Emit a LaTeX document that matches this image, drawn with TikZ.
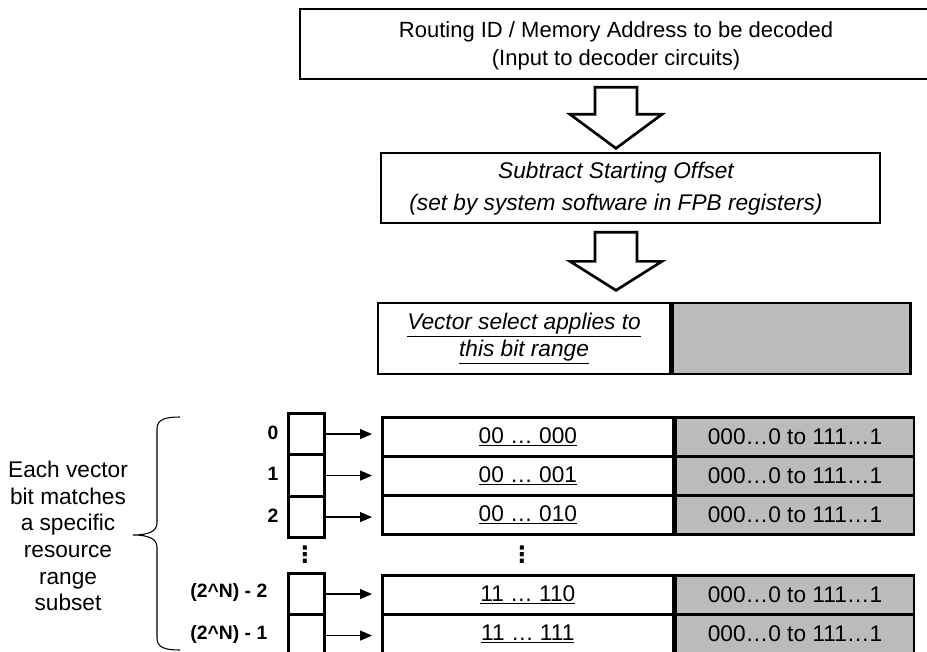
\documentclass[tikz,border=0pt]{standalone}
\usepackage{fontspec}
\setmainfont{Liberation Sans}
\newfontfamily\dotsfont{DejaVu Sans}
\usetikzlibrary{arrows.meta, positioning, calc}
\definecolor{rangegray}{RGB}{187,187,187}

\begin{document}
\begin{tikzpicture}[x=0.75pt, y=-0.75pt,
    stagebox/.style={rectangle, draw, line width=2pt, minimum height=52.5pt, inner sep=0pt},
    stagetext/.style={align=center, font=\fontsize{17}{21}\selectfont},
    bitcell/.style={rectangle, draw, line width=2pt, minimum width=27pt, minimum height=31.1pt,
                 inner sep=0pt, anchor=north west},
    idxpart/.style={rectangle, draw, line width=2pt, minimum width=218.25pt, minimum height=29.25pt,
                 inner sep=0pt, anchor=north west, font=\fontsize{17}{20}\selectfont},
    rangepart/.style={idxpart, fill=rangegray, minimum width=178.5pt},
    bitlabel/.style={anchor=east, font=\bfseries\fontsize{14.5}{17}\selectfont},
    blockarrow/.style={draw, line width=2pt, fill=white, line join=miter},
    bitarrow/.style={-{Triangle[length=9pt, width=7.5pt]}, line width=0.9pt, shorten >=6.75pt},
    vdotsmark/.style={inner sep=0pt, font=\dotsfont\bfseries\fontsize{17}{17}\selectfont}
]
    \path[use as bounding box, clip] (0,0) rectangle (927,652);

    % decoder input and offset stages
    \node[stagebox, minimum width=495pt] (addr) at (630,44) {};
    \node[stagetext, font=\fontsize{16.5}{21}\selectfont] (addrtxt) at (616,46)
        {Routing ID / Memory Address to be decoded\\(Input to decoder circuits)};
    \node[stagebox, minimum width=374.25pt] (sub) at (630.5,188) {};
    \node[stagetext, font=\itshape\fontsize{17}{24}\selectfont] (subtxt) at (616,189)
        {Subtract Starting Offset\\(set by system software in FPB registers)};

    \draw[blockarrow] ($(addrtxt.center |- addr.south)+(-21,7)$) -- ++(42,0) -- ++(0,27) -- ++(25,0)
        -- ++(-46,34) -- ++(-46,-34) -- ++(25,0) -- cycle;
    \draw[blockarrow] ($(subtxt.center |- sub.south)+(-21,8)$) -- ++(42,0) -- ++(0,29) -- ++(25,0)
        -- ++(-46,29) -- ++(-46,-29) -- ++(25,0) -- cycle;

    % bit range split
    \node[stagebox, minimum width=219pt, minimum height=53.25pt, align=center,
          font=\itshape\fontsize{17}{20}\selectfont] (vsel) at (524,338.5)
        {\underline{Vector select applies to}\\\underline{this bit range}};
    \node[stagebox, fill=rangegray, minimum width=178.5pt, minimum height=53.25pt,
          right=0pt of vsel] (vrest) {};

    % select vector and decoded ranges
    \foreach \n/\bt/\rt/\lx/\lab/\pat in {0/412/416/283/0/00 … 000, 1/453.5/455/283/1/00 … 001,
            2/495/494/283/2/00 … 010, 3/572/574/272/{(2\textasciicircum N) - 2}/11 … 110,
            4/613.5/613/272/{(2\textasciicircum N) - 1}/11 … 111}{
        \node[bitcell] (bit\n) at (287,\bt) {};
        \node[bitlabel] (lab\n) at (\lx,\bt+20.75) {\lab};
        \node[idxpart] (idx\n) at (381,\rt) {\underline{\pat}};
        \node[rangepart, right=0pt of idx\n] (rng\n) {000…0 to 111…1};
        \draw[bitarrow] (bit\n.east) -- (bit\n.east -| idx\n.west);
    }

    \node[vdotsmark] (dotsbit) at (305,555) {⋮};
    \node[vdotsmark] (dotsidx) at (522,555) {⋮};

    % brace and note
    \coordinate (bracetop) at (180,417);
    \coordinate (bracetip) at (133,535);
    \coordinate (bracebot) at (180,650);
    \draw[line width=0.8pt] (bracetop) .. controls (166,417) and (157,419) .. (157,429) -- (157,523)
        .. controls (157,531) and (149,535) .. (bracetip)
        .. controls (149,535) and (157,539) .. (157,547) -- (157,638)
        .. controls (157,648) and (166,650) .. (bracebot);
    \node[align=center, font=\fontsize{17}{20}\selectfont] (note) at (68,536)
        {Each vector\\bit matches\\a specific\\resource\\range\\subset};
\end{tikzpicture}
\end{document}
